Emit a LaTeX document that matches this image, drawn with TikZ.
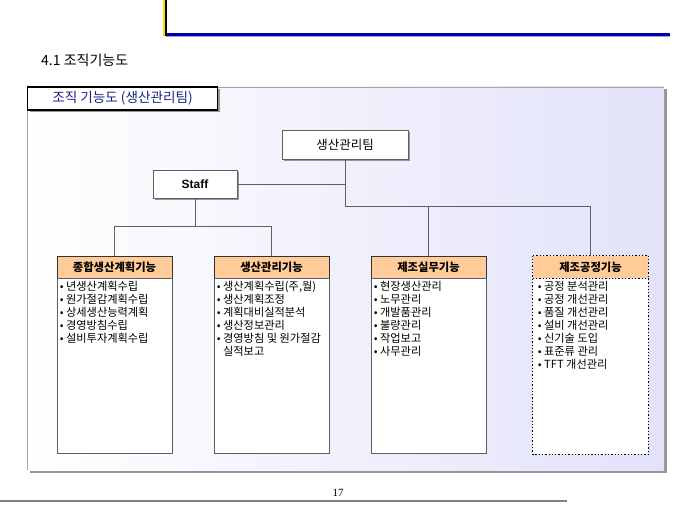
\documentclass[tikz,border=0pt]{standalone}
\usepackage{fontspec}
\setmainfont{Noto Sans CJK KR}
\newfontfamily\arialf{Liberation Sans}
\newfontfamily\serff{Liberation Serif}
\usetikzlibrary{shadows}
\definecolor{peach}{RGB}{255,204,153}
\definecolor{lav}{RGB}{226,226,250}
\definecolor{navyt}{RGB}{25,35,125}
\definecolor{topblue}{RGB}{0,0,175}
\definecolor{lgray}{RGB}{95,95,95}
\definecolor{shad}{RGB}{150,150,150}
\tikzset{
  conn/.style={draw=lgray, line width=0.8pt},
  topbox/.style={draw=lgray, line width=0.8pt, fill=white, inner sep=0pt,
     drop shadow={shadow xshift=2pt, shadow yshift=-2pt, fill=shad, opacity=1}},
  headbox/.style={draw=black!80, line width=0.8pt, fill=peach, inner sep=0pt,
     minimum width=115pt, minimum height=22pt, font=\fontsize{11.3}{13}\selectfont\bfseries},
  bodybox/.style={draw=lgray, line width=0.8pt, fill=white, inner sep=0pt, anchor=north,
     minimum width=115pt, minimum height=175pt},
  dotbox/.style={draw=black, line width=1.3pt, dotted},
  itemtext/.style={anchor=north west, inner sep=0pt, align=left,
     font=\fontsize{11.2}{13}\selectfont}
}
\begin{document}
\begin{tikzpicture}[x=1pt,y=-1pt]
\useasboundingbox (0,0) rectangle (680,510);
% top decoration
\fill[yellow!85!orange] (162.5,0) rectangle (165,36);
\draw[line width=3.2pt, topblue] (165,34.5) -- (670,34.5);
\draw[line width=0.8pt, topblue!40] (166,36.9) -- (670,36.9);
\draw[line width=1.6pt, black] (165.8,0) -- (165.8,36);
\node[anchor=west, inner sep=0pt, font=\fontsize{14}{16}\selectfont] (sect) at (41,60) {4.1 조직기능도};
% panel
\fill[shad] (29.5,89.5) rectangle (666.5,472.5);
\shade[left color=white, right color=lav] (27,87) rectangle (664,470);
\draw[gray!70, line width=0.6pt] (27,470) -- (27,87) -- (664,87);
% title box
\node[draw=black, line width=1.6pt, fill=white, inner sep=0pt, minimum width=190pt, minimum height=23pt,
  drop shadow={shadow xshift=2.5pt, shadow yshift=-2.5pt, fill=shad, opacity=1},
  text=navyt, font=\fontsize{13.6}{15}\selectfont] (title) at (122.5,98.5) {조직 기능도 (생산관리팀)};
% top nodes
\node[topbox, minimum width=126pt, minimum height=29pt, font=\fontsize{12.5}{14}\selectfont] (mgr) at (345,144.5) {생산관리팀};
\node[topbox, minimum width=84pt, minimum height=28pt, font=\fontsize{12}{14}\selectfont\arialf\bfseries] (staff) at (195,184) {Staff};
% column headers
\node[headbox] (h1) at (114.5,267) {종합생산계획기능};
\node[headbox] (h2) at (271.5,267) {생산관리기능};
\node[headbox] (h3) at (428.5,267) {제조실무기능};
\node[headbox, draw=none] (h4) at (590.5,267) {제조공정기능};
% bodies
\node[bodybox] (b1) at (h1.south) {};
\node[bodybox] (b2) at (h2.south) {};
\node[bodybox] (b3) at (h3.south) {};
\node[bodybox, draw=none] (b4) at (h4.south) {};
\draw[dotbox] (h4.north west) rectangle (b4.south east);
\draw[dotbox] (h4.south west) -- (h4.south east);
% connectors
\coordinate (j) at (mgr.south |- 0,206);
\coordinate (k) at (staff.south |- 0,226);
\draw[conn] (mgr.south) -- (j);
\draw[conn] (staff.east) -- (staff.east -| mgr.south);
\draw[conn] (j) -| (h3.north);
\draw[conn] (j) -| (h4.north);
\draw[conn] (staff.south) -- (k);
\draw[conn] (k) -| (h1.north);
\draw[conn] (k) -| (h2.north);
% items
\node[itemtext] (t1) at ([shift={(3,3)}]b1.north west) {• 년생산계획수립\\• 원가절감계획수립\\• 상세생산능력계획\\• 경영방침수립\\• 설비투자계획수립};
\node[itemtext] (t2) at ([shift={(3,3)}]b2.north west) {• 생산계획수립(주,월)\\• 생산계획조정\\• 계획대비실적분석\\• 생산정보관리\\• 경영방침 및 원가절감\\\phantom{• }실적보고};
\node[itemtext] (t3) at ([shift={(3,3)}]b3.north west) {• 현장생산관리\\• 노무관리\\• 개발품관리\\• 불량관리\\• 작업보고\\• 사무관리};
\node[itemtext] (t4) at ([shift={(5,3)}]b4.north west) {• 공정 분석관리\\• 공정 개선관리\\• 품질 개선관리\\• 설비 개선관리\\• 신기술 도입\\• 표준류 관리\\• TFT 개선관리};
% footer
\node[inner sep=0pt, font=\fontsize{11}{13}\selectfont\serff] (pg) at (338,493) {17};
\draw[gray, line width=1.2pt] (0,501) -- (567,501);
\end{tikzpicture}
\end{document}
